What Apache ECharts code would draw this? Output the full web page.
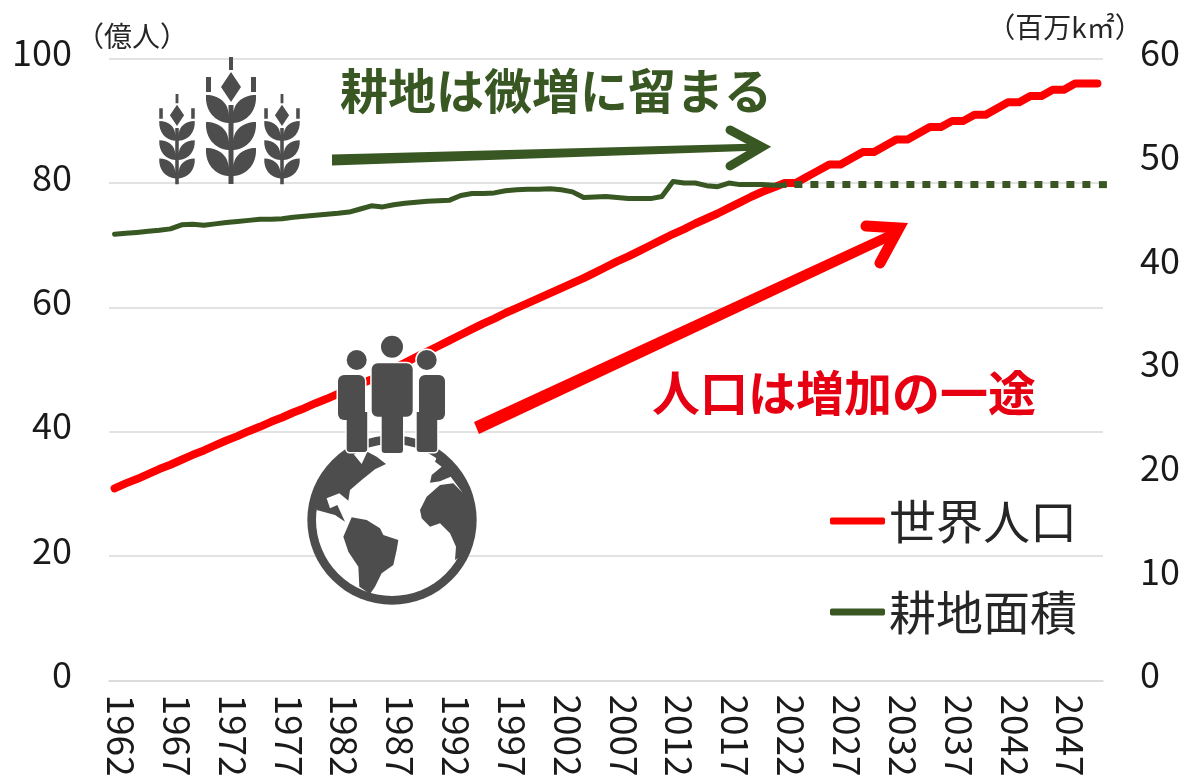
<!DOCTYPE html>
<html lang="ja">

<head>
  <script src="https://cdn.jsdelivr.net/npm/echarts@6.0.0/dist/echarts.min.js"></script>
  <meta charset="UTF-8">
  <style>
    html, body { margin: 0; padding: 0; background: #fff; }
  </style>
</head>

<body>
  <div id="main" style="width: 1186px;height:775px;"></div>

  <script type="text/javascript">

    // 1962-2050
    const years = [
      1962, 1963, 1964, 1965, 1966, 1967, 1968, 1969, 1970, 1971, 1972, 1973, 1974, 1975, 1976,
      1977, 1978, 1979, 1980, 1981, 1982, 1983, 1984, 1985, 1986, 1987, 1988, 1989, 1990, 1991,
      1992, 1993, 1994, 1995, 1996, 1997, 1998, 1999, 2000, 2001, 2002, 2003, 2004, 2005, 2006,
      2007, 2008, 2009, 2010, 2011, 2012, 2013, 2014, 2015, 2016, 2017, 2018, 2019, 2020, 2021,
      2022, 2023, 2024, 2025, 2026, 2027, 2028, 2029, 2030, 2031, 2032, 2033, 2034, 2035, 2036,
      2037, 2038, 2039, 2040, 2041, 2042, 2043, 2044, 2045, 2046, 2047, 2048, 2049, 2050
    ];

    // 億人 (left axis)
    const population = [
      30.9, 31.7, 32.4, 33.2, 34.0, 34.7, 35.5, 36.3, 37.0, 37.8, 38.6, 39.3, 40.1, 40.8, 41.6,
      42.3, 43.1, 43.8, 44.6, 45.3, 46.1, 46.9, 47.7, 48.4, 49.3, 50.2, 51.1, 52.0, 52.9, 53.8,
      54.7, 55.6, 56.5, 57.4, 58.2, 59.1, 59.9, 60.7, 61.5, 62.3, 63.1, 63.9, 64.7, 65.6, 66.5,
      67.4, 68.2, 69.1, 70.0, 70.9, 71.8, 72.6, 73.5, 74.3, 75.1, 76.0, 76.9, 77.8, 78.6, 79.3,
      80, 80, 81, 82, 83, 83, 84, 85, 85, 86, 87, 87, 88, 89, 89,
      90, 90, 91, 91, 92, 93, 93, 94, 94, 95, 95, 96, 96, 96
    ];

    // 百万km2 (right axis), actual part up to 2022
    const farmland = [
      43.05, 43.15, 43.24, 43.34, 43.44, 43.58, 43.97, 44.02, 43.92, 44.06, 44.2, 44.3, 44.4, 44.5, 44.5,
      44.55, 44.7, 44.8, 44.9, 45.0, 45.08, 45.2, 45.5, 45.8, 45.7, 45.9, 46.05, 46.15, 46.25, 46.3,
      46.35, 46.8, 47.0, 47.0, 47.05, 47.25, 47.35, 47.4, 47.4, 47.45, 47.35, 47.15, 46.6, 46.65, 46.7,
      46.6, 46.5, 46.5, 46.5, 46.7, 48.15, 48.0, 48.0, 47.75, 47.65, 48.0, 47.85, 47.85, 47.85, 47.8,
      47.8
    ];

    // dotted outlook, flat from 2022 on
    const farmlandOutlook = [
      47.85, 47.85, 47.85, 47.85, 47.85, 47.85, 47.85, 47.85, 47.85, 47.85, 47.85, 47.85, 47.85, 47.85, 47.85,
      47.85, 47.85, 47.85, 47.85, 47.85, 47.85, 47.85, 47.85, 47.85, 47.85, 47.85, 47.85, 47.85, 47.85
    ];

    const FONT = '"Noto Sans CJK JP", "Noto Sans", sans-serif';
    const RED = '#ff0000';
    const GREEN = '#385723';
    const ICON = '#4d4d4d';

    const outlookData = years.map((y, i) => {
      if (i < 60) return null;
      const v = farmlandOutlook[i - 60];
      // last square of the dotted line sticks out a bit past the last point
      if (i === years.length - 1) {
        return { value: v, symbol: 'rect', symbolSize: [8, 7], symbolOffset: [5.5, 0], itemStyle: { color: GREEN } };
      }
      return v;
    });

    function wheatPath() {
      let p = 'M-2 0L2 0L2 13L-2 13Z M0 15L10 30L0 45L-10 30Z ';
      p += 'M-25 20L-20 20L-20 35L-25 35Z M20 20L25 20L25 35L20 35Z ';
      p += 'M-2.5 48L2.5 48L2.5 127L-2.5 127Z ';
      [0, 27, 53].forEach(d => {
        p += `M-25 ${38 + d}C-12 ${38 + d} -2 ${46 + d} -2.5 ${58 + d}L-2.5 ${66 + d}C-16 ${65 + d} -26 ${54 + d} -25 ${38 + d}Z `;
        p += `M25 ${38 + d}C12 ${38 + d} 2 ${46 + d} 2.5 ${58 + d}L2.5 ${66 + d}C16 ${65 + d} 26 ${54 + d} 25 ${38 + d}Z `;
      });
      return p;
    }

    // the graphic component has no plain path type, so the icons go in as named shapes
    echarts.graphic.registerShape('wheatIcon', echarts.graphic.extendPath(wheatPath()));
    echarts.graphic.registerShape('continentIcon', echarts.graphic.extendPath(
      'M110 570C115 490 155 420 215 395L245 432L262 395L290 410L318 432L285 448L245 480L210 510L205 542L178 520L140 535L150 565L172 555L195 605L165 585Z ' +
      'M190 650L215 592L260 600L300 625L310 645L355 660L350 690L340 735L305 760L285 800L270 822L238 800L235 740L205 695Z ' +
      'M420 570L440 530L480 495L520 490L548 518L512 470L480 484L450 488L455 465L485 440L465 425L475 400C540 440 590 520 585 600C585 660 560 700 525 720L528 680L510 640L480 610L450 620L425 595Z'
    ));

    function wheat(x, y, s) {
      return {
        type: 'wheatIcon', x: x, y: y, scaleX: s, scaleY: s, z: 20,
        style: { fill: ICON }
      };
    }

    // globe continents are written in 3x coordinates, see the group scale below
    const globe = {
      type: 'group', x: 280, y: 320, scaleX: 1 / 3, scaleY: 1 / 3,
      children: [
        { type: 'circle', shape: { cx: 336, cy: 600, r: 254 }, style: { fill: ICON }, z: 20 },
        { type: 'circle', shape: { cx: 336, cy: 600, r: 228 }, style: { fill: '#fff' }, z: 20 },
        { type: 'continentIcon', z: 21, style: { fill: ICON } }
      ]
    };

    // white halo first, then the figure on top so body and legs read as one shape
    function person(cx, cy, r, bx, by, bw, bh, lx, lw, lb) {
      const head = { cx: cx, cy: cy, r: r };
      const body = { x: bx, y: by, width: bw, height: bh, r: 6 };
      const legs = { x: lx, y: by + bh - 8, width: lw, height: lb - by - bh + 8, r: [0, 0, 3, 3] };
      const halo = { fill: '#fff', stroke: '#fff', lineWidth: 3 };
      const fill = { fill: ICON };
      return {
        type: 'group',
        children: [
          { type: 'circle', z: 22, shape: head, style: halo },
          { type: 'rect', z: 22, shape: legs, style: halo },
          { type: 'rect', z: 22, shape: body, style: halo },
          { type: 'circle', z: 23, shape: head, style: fill },
          { type: 'rect', z: 23, shape: legs, style: fill },
          { type: 'rect', z: 23, shape: body, style: fill }
        ]
      };
    }

    function unitText(text, x, y) {
      return {
        type: 'text', x: x, y: y, z: 10,
        style: { text: text, font: '28px ' + FONT, fill: '#262626', align: 'center', verticalAlign: 'middle' }
      };
    }

    function headline(text, x, y, color) {
      return {
        type: 'text', x: x, y: y, z: 10,
        style: { text: text, font: 'bold 48px ' + FONT, fill: color, align: 'left', verticalAlign: 'middle' }
      };
    }

    function arrowLine(points, color, width, cap) {
      return {
        type: 'polyline', z: 6,
        shape: { points: points },
        style: { stroke: color, fill: null, lineWidth: width, lineCap: cap, lineJoin: 'miter' }
      };
    }

    function arrowShaft(points, color) {
      return { type: 'polygon', z: 6, shape: { points: points }, style: { fill: color } };
    }

    const chart = echarts.init(document.getElementById('main'));

    const option = {
      animation: false,
      backgroundColor: '#fff',
      textStyle: { fontFamily: FONT },
      grid: { left: 109, right: 83, top: 58.7, bottom: 94.5, outerBoundsMode: 'none' },
      legend: {
        left: 825,
        top: 486,
        orient: 'vertical',
        icon: 'roundRect',
        itemWidth: 55,
        itemHeight: 7,
        itemGap: 31,
        selectedMode: false,
        data: ['世界人口', '耕地面積'],
        textStyle: { fontFamily: FONT, fontSize: 47, color: '#262626', lineHeight: 60, padding: [0, 0, 0, -1] }
      },
      xAxis: {
        type: 'category',
        data: years,
        axisTick: { show: false },
        axisLine: { lineStyle: { color: '#d9d9d9', width: 1.5 } },
        axisLabel: {
          interval: 4,
          rotate: -90,
          margin: 14,
          verticalAlign: 'bottom',
          lineHeight: 13,
          fontSize: 37,
          color: '#1a1a1a',
          fontFamily: FONT
        }
      },
      yAxis: [
        {
          type: 'value', min: 0, max: 100, interval: 20,
          axisLine: { show: false }, axisTick: { show: false },
          splitLine: { lineStyle: { color: '#d9d9d9', width: 1.5 } },
          axisLabel: { margin: 37, fontSize: 36, color: '#1a1a1a', fontFamily: FONT, verticalAlign: 'bottom', lineHeight: 12 }
        },
        {
          type: 'value', min: 0, max: 60, interval: 10,
          axisLine: { show: false }, axisTick: { show: false },
          splitLine: { show: false },
          axisLabel: { margin: 37, fontSize: 36, color: '#1a1a1a', fontFamily: FONT, verticalAlign: 'bottom', lineHeight: 12 }
        }
      ],
      series: [
        {
          name: '世界人口', type: 'line', yAxisIndex: 0, data: population,
          symbol: 'none', z: 3,
          itemStyle: { color: RED },
          lineStyle: { color: RED, width: 8, cap: 'round', join: 'round' }
        },
        {
          name: '耕地面積', type: 'line', yAxisIndex: 1, data: farmland,
          symbol: 'none', z: 4,
          itemStyle: { color: GREEN },
          lineStyle: { color: GREEN, width: 5, cap: 'round', join: 'round' }
        },
        {
          name: '耕地面積見通し', type: 'line', yAxisIndex: 1, data: outlookData,
          symbol: 'none', z: 4,
          itemStyle: { color: GREEN },
          lineStyle: { color: GREEN, width: 7, type: [8, 8], dashOffset: 6.3, cap: 'butt' }
        }
      ],
      graphic: [
        unitText('（億人）', 132, 36),
        unitText('（百万k㎡）', 1065, 27),
        headline('耕地は微増に留まる', 340, 91, GREEN),
        headline('人口は増加の一途', 652, 393, '#e60012'),
        arrowShaft([[332, 154.5], [760, 143.5], [760, 150.5], [332, 165.5]], GREEN),
        arrowLine([[730, 130], [762, 147], [730, 166]], GREEN, 9, 'round'),
        arrowShaft([[474, 422], [895, 228], [899, 237], [479, 434]], RED),
        arrowLine([[866, 226], [899, 228], [880, 263]], RED, 11, 'round'),
        wheat(231, 57, 1),
        wheat(177, 94, 0.71),
        wheat(282, 94, 0.71),
        globe,
        person(356.7, 360, 10, 338, 375, 27, 45, 346.7, 20.5, 452),
        person(426.7, 360, 10, 419, 375, 26, 45, 416.7, 20.5, 452),
        person(392, 346.7, 11, 371.7, 363.3, 41, 53.4, 381.7, 21.3, 453)
      ]
    };

    chart.setOption(option);
  </script>
</body>

</html>
